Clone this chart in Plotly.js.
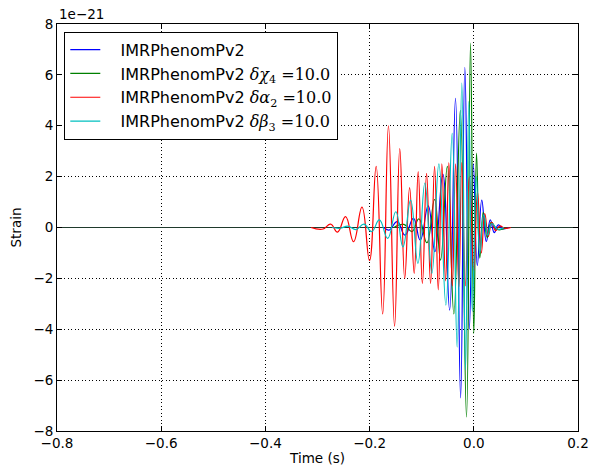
<!DOCTYPE html>
<html>
<head>
<meta charset="utf-8">
<script src="https://cdn.plot.ly/plotly-3.0.1.min.js"></script>
<style>html,body{margin:0;padding:0;background:#fff;}#chart{width:592px;height:466px;}</style>
</head>
<body>
<div id="chart"></div>
<script>
// Strain values are in units of 1e-21 (matplotlib offset text "1e-21")
const seriesNames = [
  "IMRPhenomPv2",
  "IMRPhenomPv2 <span style='font-family:DejaVu Serif'><i>δχ</i><sub>4</sub> =10.0</span>",
  "IMRPhenomPv2 <span style='font-family:DejaVu Serif'><i>δα</i><sub>2</sub> =10.0</span>",
  "IMRPhenomPv2 <span style='font-family:DejaVu Serif'><i>δβ</i><sub>3</sub> =10.0</span>"
];

// IMRPhenomPv2 (blue)
const tBlue = [-0.1724,-0.1628,-0.1469,-0.1322,-0.1159,-0.1029,-0.0875,-0.0747,-0.0594,-0.0464,-0.0351,-0.0253,-0.0172,-0.0086,-0.0010,0.0067,0.0153,0.0240,0.0316,0.0393,0.0470,0.0556,0.0670];
const hBlue = [0,-0.10,0.23,-0.30,0.36,-0.50,0.85,-0.95,2.10,-3.25,5.08,-6.70,6.30,-4.00,2.50,-1.50,1.08,-0.55,0.30,-0.20,0.10,-0.05,0];

// delta chi4 (green)
const tGreen = [-0.1533,-0.1341,-0.1188,-0.1054,-0.0900,-0.0753,-0.0638,-0.0508,-0.0383,-0.0259,-0.0140,-0.0063,0.0000,0.0052,0.0115,0.0182,0.0259,0.0335,0.0450,0.0632];
const hGreen = [0,0.12,-0.16,0.34,-0.60,1.10,-1.28,2.40,-3.40,4.60,-7.45,7.25,-4.17,2.92,-1.20,0.60,-0.40,0.20,-0.08,0];

// delta alpha2 (red)
const tRed = [-0.3123,-0.2893,-0.2749,-0.2615,-0.2462,-0.2308,-0.2146,-0.2002,-0.1874,-0.1749,-0.1638,-0.1521,-0.1421,-0.1326,-0.1232,-0.1144,-0.1067,-0.0987,-0.0906,-0.0830,-0.0753,-0.0682,-0.0613,-0.0542,-0.0479,-0.0412,-0.0349,-0.0287,-0.0230,-0.0163,-0.0086,0.0000,0.0071,0.0144,0.0211,0.0278,0.0345,0.0421,0.0498,0.0594,0.0709];
const hRed = [0,-0.06,0.13,-0.18,0.43,-0.56,0.80,-1.30,2.40,-3.40,4.00,-3.88,3.10,-2.00,1.57,-1.80,2.20,-2.20,2.13,-2.20,2.40,-2.45,2.50,-2.10,2.55,-2.30,2.50,-2.35,2.55,-2.30,2.00,-1.70,1.40,-1.00,0.55,-0.35,0.20,-0.12,0.06,-0.03,0];

// delta beta3 (cyan)
const tCyan = [-0.2720,-0.2567,-0.2414,-0.2261,-0.2107,-0.1960,-0.1812,-0.1653,-0.1497,-0.1360,-0.1213,-0.1073,-0.0939,-0.0805,-0.0670,-0.0536,-0.0415,-0.0320,-0.0230,-0.0159,-0.0096,-0.0029,0.0048,0.0115,0.0192,0.0268,0.0345,0.0460,0.0575];
const hCyan = [0,-0.03,0.05,-0.08,0.13,-0.16,0.30,-0.43,0.62,-0.76,1.08,-1.41,1.75,-1.80,2.50,-3.05,3.70,-4.70,5.68,-5.60,4.95,-3.30,2.00,-1.00,0.50,-0.30,0.15,-0.07,0];

const xTicks = [-0.8,-0.6,-0.4,-0.2,0.0,0.2];
const yTicks = [-8,-6,-4,-2,0,2,4,6,8];

const colors = ["#0000ff","#008000","#ff0000","#00bfbf"];
const ts = [tBlue,tGreen,tRed,tCyan];
const hs = [hBlue,hGreen,hRed,hCyan];

const pad = '\u00a0\u00a0\u00a0';
const traces = ts.map((t,i)=>({
  x: t, y: hs[i], type:'scatter', mode:'lines', name: pad + seriesNames[i],
  line:{color:colors[i], width:1.2, shape:'spline', smoothing:1.3}
}));

const font = {family:"DejaVu Sans", size:13.5, color:"#000"};
const gridDash = '1px,2.5px';
const layout = {
  width:592, height:466,
  margin:{l:57, r:14, t:24, b:35, pad:0},
  paper_bgcolor:'#fff', plot_bgcolor:'#fff',
  font: font,
  showlegend:true,
  legend:{x:0.014, y:0.981, xanchor:'left', yanchor:'top', bgcolor:'#fff', bordercolor:'#000', borderwidth:1,
          font:{family:"DejaVu Sans", size:16, color:'#000'}, traceorder:'normal'},
  xaxis:{range:[-0.8,0.2], tickvals:xTicks, ticktext:xTicks.map(v=>v.toFixed(1).replace('-','−')),
         showgrid:true, gridcolor:'#000', griddash:gridDash, gridwidth:1,
         zeroline:false, showline:true, linecolor:'#000', linewidth:1, mirror:'allticks',
         ticks:'inside', ticklen:5, tickcolor:'#000',
         title:{text:'Time (s)', font:font, standoff:6}},
  yaxis:{range:[-8,8], tickvals:yTicks, ticktext:yTicks.map(v=>String(v).replace('-','−')),
         showgrid:true, gridcolor:'#000', griddash:gridDash, gridwidth:1,
         zeroline:true, zerolinecolor:'#1f3a2c', zerolinewidth:1.1,
         showline:true, linecolor:'#000', linewidth:1, mirror:'allticks',
         ticks:'inside', ticklen:5, tickcolor:'#000',
         title:{text:'Strain', font:font, standoff:8}},
  annotations:[{text:'1e−21', xref:'paper', yref:'paper', x:0, y:1, xanchor:'left', yanchor:'bottom',
                showarrow:false, font:font, yshift:0}]
};
Plotly.newPlot('chart', traces, layout, {staticPlot:true, displayModeBar:false});
</script>
</body>
</html>
